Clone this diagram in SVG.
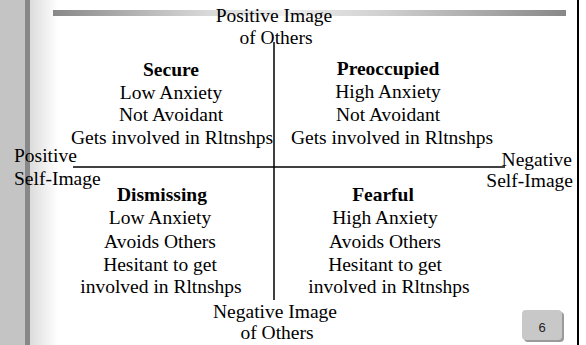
<svg xmlns="http://www.w3.org/2000/svg" width="586" height="345" viewBox="0 0 586 345">
  <defs>
    <linearGradient id="sideFade" x1="0" y1="0" x2="1" y2="0">
      <stop offset="0" stop-color="#dcdcdc"/>
      <stop offset="1" stop-color="#ffffff"/>
    </linearGradient>
    <linearGradient id="topBar" x1="0" y1="0" x2="1" y2="0">
      <stop offset="0" stop-color="#888888"/>
      <stop offset="0.3" stop-color="#d8d8d8"/>
      <stop offset="0.45" stop-color="#eeeeee"/>
      <stop offset="0.65" stop-color="#cfcfcf"/>
      <stop offset="1" stop-color="#888888"/>
    </linearGradient>
  </defs>
  <style>
    text { font-family: "Liberation Serif", "Times New Roman", serif; font-size: 19.5px; fill: #000; text-anchor: middle; }
    .b { font-weight: bold; }
    .l { text-anchor: start; }
    .r { text-anchor: end; }
    .axis { stroke: #000; stroke-width: 1.5; fill: none; }
    .num { font-family: "Liberation Sans", Arial, sans-serif; font-size: 13px; fill: #222; }
  </style>

  <!-- background / slide frame -->
  <rect x="0" y="0" width="586" height="345" fill="#ffffff"/>
  <rect x="30" y="0" width="28" height="345" fill="url(#sideFade)"/>
  <rect x="0" y="0" width="25" height="345" fill="#c4c4c4"/>
  <rect x="25" y="0" width="5" height="345" fill="#888888"/>
  <rect x="53" y="10" width="513" height="6" fill="url(#topBar)"/>
  <rect x="577" y="0" width="2" height="345" fill="#000000"/>

  <!-- connectors (axes) -->
  <g id="connectors">
    <line class="axis" x1="274" y1="42" x2="274" y2="300" stroke="#222"/>
    <line class="axis" x1="73" y1="167" x2="505" y2="167"/>
  </g>

  <g id="axis-top">
    <text x="274" y="22">Positive Image</text>
    <text x="276" y="44">of Others</text>
  </g>
  <g id="axis-bottom">
    <text x="275" y="318">Negative Image</text>
    <text x="277" y="339">of Others</text>
  </g>
  <g id="axis-left">
    <text class="l" x="14" y="162">Positive</text>
    <text class="l" x="14" y="185">Self-Image</text>
  </g>
  <g id="axis-right">
    <text class="r" x="572" y="166">Negative</text>
    <text class="r" x="573" y="187">Self-Image</text>
  </g>

  <g id="secure">
    <text class="b" x="171" y="76">Secure</text>
    <text x="171" y="98.5">Low Anxiety</text>
    <text x="171" y="121">Not Avoidant</text>
    <text x="172" y="144">Gets involved in Rltnshps</text>
  </g>
  <g id="preoccupied">
    <text class="b" x="388" y="75">Preoccupied</text>
    <text x="388" y="98">High Anxiety</text>
    <text x="388" y="121">Not Avoidant</text>
    <text x="392" y="144">Gets involved in Rltnshps</text>
  </g>
  <g id="dismissing">
    <text class="b" x="162" y="201">Dismissing</text>
    <text x="160" y="224">Low Anxiety</text>
    <text x="160" y="247.5">Avoids Others</text>
    <text x="160" y="271">Hesitant to get</text>
    <text x="161" y="293">involved in Rltnshps</text>
  </g>
  <g id="fearful">
    <text class="b" x="383" y="201">Fearful</text>
    <text x="385" y="224">High Anxiety</text>
    <text x="385" y="247.5">Avoids Others</text>
    <text x="385" y="271">Hesitant to get</text>
    <text x="389" y="293">involved in Rltnshps</text>
  </g>

  <g id="page-number">
    <rect x="524" y="312" width="40" height="30" rx="4" fill="#9a9a9a"/>
    <rect x="522" y="310" width="40" height="30" rx="4" fill="#c8c8c8"/>
    <text class="num" x="542" y="332">6</text>
  </g>
</svg>
